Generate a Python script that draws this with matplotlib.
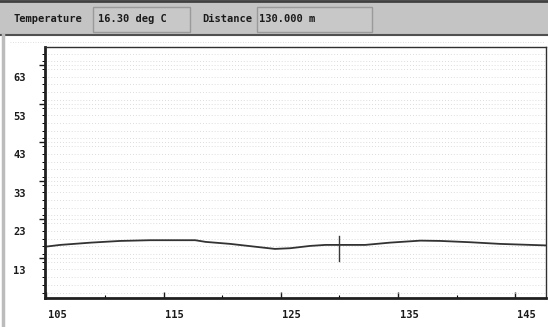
"""Temperature vs distance trace, redrawn from a screenshot of the logger GUI."""
import matplotlib
matplotlib.use("Agg")
import matplotlib.pyplot as plt
import matplotlib.transforms as mtransforms
from matplotlib.patches import Rectangle
from matplotlib.ticker import MultipleLocator

# trace (distance in m, temperature in deg C)
distance = [105.0, 106.2, 108.8, 111.3, 113.9, 117.7, 118.6, 120.7, 123.2, 124.5, 125.8,
            127.5, 128.8, 130.1, 132.2, 134.3, 136.9, 138.6, 141.1, 143.7, 146.3, 147.6]
temperature = [15.93, 16.37, 16.96, 17.40, 17.59, 17.59, 17.15, 16.63, 15.77, 15.33, 15.51,
               16.11, 16.37, 16.37, 16.37, 16.96, 17.48, 17.40, 17.07, 16.63, 16.37, 16.24]

x_ticks = [105, 115, 125, 135, 145]
y_ticks = [13, 23, 33, 43, 53, 63]

cursor_x = 130.0
cursor_span = (12.2, 18.7)
readout_temp = "16.30 deg C"
readout_dist = "130.000 m"

W, H, DPI = 548, 327, 100
fig = plt.figure(figsize=(W / DPI, H / DPI), dpi=DPI)
fig.patch.set_facecolor("white")

# background / window chrome in pixel coordinates
bg = fig.add_axes([0, 0, 1, 1])
bg.set_xlim(0, W)
bg.set_ylim(H, 0)
bg.axis("off")
bg.add_patch(Rectangle((0, 0), W, 35, facecolor="#c4c4c4", edgecolor="none"))
bg.plot([0, W], [1, 1], color="#404040", lw=2)
bg.plot([0, W], [35, 35], color="#505050", lw=1.5)
bg.plot([3, 3], [35, H], color="#bcbcbc", lw=2.5)
bg.add_patch(Rectangle((93, 7), 97, 25, facecolor="#c8c8c8", edgecolor="#9a9a9a", lw=1))
bg.add_patch(Rectangle((257, 7), 115, 25, facecolor="#c8c8c8", edgecolor="#9a9a9a", lw=1))
mono = dict(family="DejaVu Sans Mono", weight="bold", size=7.5, color="#1a1a1a", va="center")
bg.text(13, 19, "Temperature", **mono)
bg.text(98, 19, readout_temp, **mono)
bg.text(202, 19, "Distance", **mono)
bg.text(259, 19, readout_dist, **mono)
bg.plot([10, W - 4], [42, 42], color="#d4d4d4", lw=0.6, ls=(0, (1, 2)))

# plot area
left, right, top, bottom = 45, 546, 47, 298
ax = fig.add_axes([left / W, 1 - bottom / H, (right - left) / W, (bottom - top) / H])
ax.set_facecolor("white")
ax.set_xlim(104.9, 147.6)
ax.set_ylim(2.6, 67.7)

ax.plot(distance, temperature, color="#333333", lw=1.3)
ax.plot([cursor_x, cursor_x], cursor_span, color="#3a3a3a", lw=1)

ax.set_xticks(x_ticks)
ax.set_xticklabels([str(v) for v in x_ticks])
ax.set_yticks(y_ticks)
ax.set_yticklabels([str(v) for v in y_ticks])
ax.xaxis.set_minor_locator(MultipleLocator(5))
ax.yaxis.set_minor_locator(MultipleLocator(2))
ax.grid(which="both", axis="y", color="#d2d2d2", lw=0.6, ls=(0, (1, 2.5)))

ax.tick_params(axis="x", which="major", direction="in", length=4, width=1, pad=9,
               labelsize=7.5, colors="#1a1a1a")
ax.tick_params(axis="x", which="minor", direction="in", length=2.5, width=0.8)
ax.tick_params(axis="y", which="major", direction="out", length=4, width=1, pad=10,
               labelsize=7.5, colors="#1a1a1a")
ax.tick_params(axis="y", which="minor", direction="out", length=2, width=0.7)
for lab in ax.get_xticklabels() + ax.get_yticklabels():
    lab.set_fontfamily("DejaVu Sans Mono")
    lab.set_fontweight("bold")

# the GUI draws its labels shifted from the ticks
dx = mtransforms.ScaledTranslation(11 / DPI, 0, fig.dpi_scale_trans)
dy = mtransforms.ScaledTranslation(0, -12 / DPI, fig.dpi_scale_trans)
for lab in ax.get_xticklabels():
    lab.set_transform(lab.get_transform() + dx)
for lab in ax.get_yticklabels():
    lab.set_transform(lab.get_transform() + dy)

for side in ["left", "bottom"]:
    ax.spines[side].set_linewidth(2)
    ax.spines[side].set_color("#202020")
for side in ["top", "right"]:
    ax.spines[side].set_linewidth(1)
    ax.spines[side].set_color("#303030")

fig.savefig("out.png", dpi=DPI)
